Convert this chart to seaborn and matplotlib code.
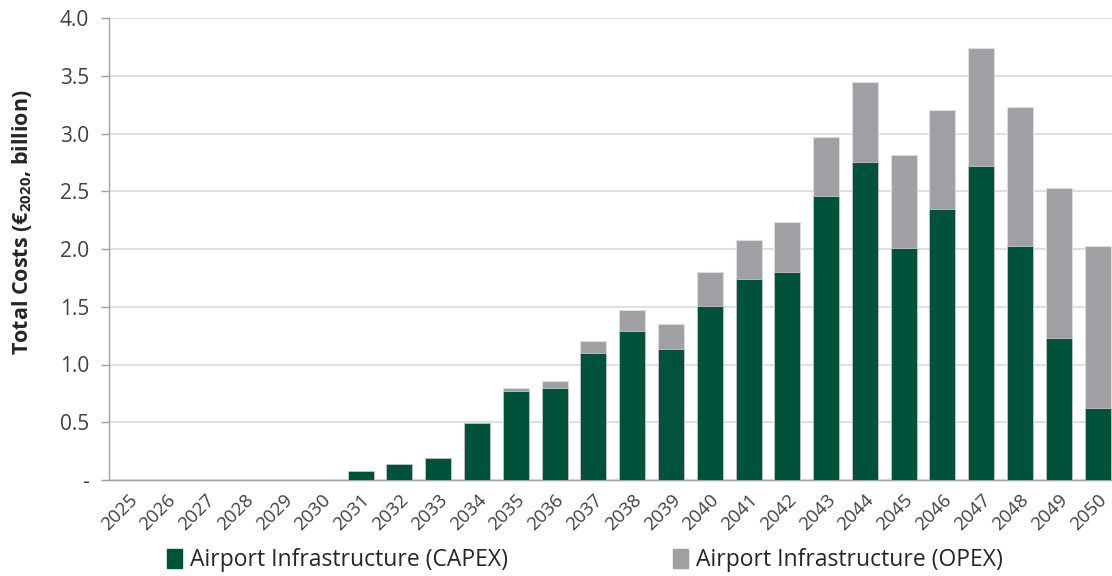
import matplotlib
matplotlib.use("Agg")
import matplotlib.pyplot as plt
import matplotlib.patches as mpatches
import seaborn as sns
import pandas as pd

years = [str(y) for y in range(2025, 2051)]
capex = [0, 0, 0, 0, 0, 0, 0.08, 0.14, 0.19, 0.49, 0.77, 0.80, 1.10, 1.29, 1.13,
         1.51, 1.74, 1.80, 2.46, 2.75, 2.01, 2.35, 2.72, 2.03, 1.23, 0.62]
total = [0, 0, 0, 0, 0, 0, 0.08, 0.14, 0.19, 0.49, 0.80, 0.86, 1.20, 1.47, 1.35,
         1.80, 2.08, 2.23, 2.97, 3.45, 2.81, 3.20, 3.74, 3.23, 2.53, 2.03]
opex = [round(t - c, 3) for t, c in zip(total, capex)]
y_ticks = [0, 0.5, 1.0, 1.5, 2.0, 2.5, 3.0, 3.5, 4.0]
y_ticklabels = ["-", "0.5", "1.0", "1.5", "2.0", "2.5", "3.0", "3.5", "4.0"]
series_names = ["Airport Infrastructure (CAPEX)", "Airport Infrastructure (OPEX)"]

GREEN = "#00533A"
GREY = "#A09FA4"
FONT = "Open Sans"

sns.set_theme(style="white")
plt.rcParams["font.family"] = [FONT, "DejaVu Sans"]
plt.rcParams["mathtext.fontset"] = "custom"
plt.rcParams["mathtext.rm"] = FONT
plt.rcParams["mathtext.bf"] = FONT + ":bold"

df = pd.DataFrame({"year": years, "capex": capex, "total": total})

fig = plt.figure(figsize=(11.12, 5.76), dpi=100)
ax = fig.add_axes([108.6 / 1112, 96 / 576, (1117 - 108.6) / 1112, 462 / 576])

sns.barplot(data=df, x="year", y="total", color=GREY, width=0.67,
            edgecolor="#dcdcdc", linewidth=0.8, ax=ax, zorder=3, saturation=1)
sns.barplot(data=df, x="year", y="capex", color=GREEN, width=0.67,
            edgecolor="#c8c8c8", linewidth=0.6, ax=ax, zorder=4, saturation=1)

ax.set_ylim(0, 4.0)
ax.set_xlim(-0.5, len(years) - 0.5)
ax.set_yticks(y_ticks)
ax.set_yticklabels(y_ticklabels, fontsize=15, color="#404040")
ax.yaxis.grid(True, color="#dadada", linewidth=1.2, zorder=0)
ax.set_axisbelow(True)

# x ticks: labels at centers, tick marks at boundaries
ax.set_xticks(range(len(years)))
ax.set_xticklabels(years, rotation=45, ha="right", rotation_mode="anchor",
                   fontsize=13.5, color="#404040")
ax.tick_params(axis="x", which="major", length=0, pad=8)
ax.set_xticks([i - 0.5 for i in range(len(years) + 1)], minor=True)
ax.tick_params(axis="x", which="minor", length=6, width=1, color="#a0a0a0", direction="out")
ax.tick_params(axis="y", length=6, width=1, color="#a0a0a0", direction="out", left=True, pad=8)

for s in ["top", "right"]:
    ax.spines[s].set_visible(False)
for s in ["left", "bottom"]:
    ax.spines[s].set_color("#a0a0a0")
    ax.spines[s].set_linewidth(1)

ax.set_xlabel("")
ax.set_ylabel(r"Total Costs (€$_{\mathbf{2020}}$, billion)", fontsize=15.5,
              fontweight="bold", color="#262626")
ax.yaxis.set_label_coords(-0.074, 0.558)

handles = [mpatches.Patch(color=GREEN, label=series_names[0]),
           mpatches.Patch(color=GREY, label=series_names[1])]
fig.legend(handles=handles, loc="center", bbox_to_anchor=(0.526, 0.027), ncol=2,
           frameon=False, fontsize=16.5, handlelength=0.65, handleheight=0.85,
           handletextpad=0.35, columnspacing=7.2, labelcolor="#262626")

fig.savefig("out.png", dpi=100)
